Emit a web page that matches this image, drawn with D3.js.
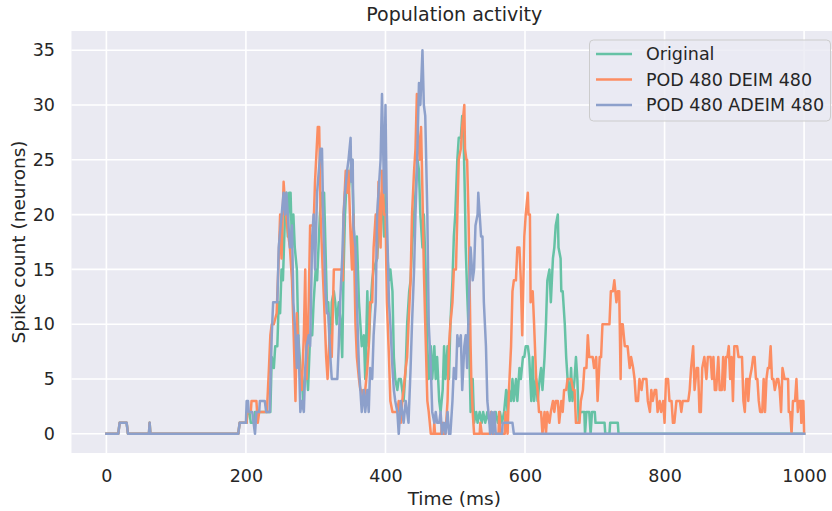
<!DOCTYPE html>
<html>
<head>
<meta charset="utf-8">
<script src="https://cdn.jsdelivr.net/npm/d3@7"></script>
<style>
  html, body { margin: 0; padding: 0; background: #ffffff; }
  svg { display: block; font-family: "DejaVu Sans", sans-serif; }
</style>
</head>
<body>
<svg id="chart" width="832" height="511"></svg>
<script>
// ---------------- data ----------------
const chartTitle = "Population activity";
const xLabel = "Time (ms)";
const yLabel = "Spike count (neurons)";
const xTicks = [0, 200, 400, 600, 800, 1000];
const yTicks = [0, 5, 10, 15, 20, 25, 30, 35];
const seriesNames = ["Original", "POD 480 DEIM 480", "POD 480 ADEIM 480"];
const seriesColors = ["#66c2a5", "#fc8d62", "#8da0cb"];

// [time (ms), spike count]
const originalData = [[0,0],[17,0],[19,1],[29,1],[31,0],[61,0],[62,1],[63,0],[189,0],[191,1],[201,1],[202,2],[205,2],[207,1],[211,1],[213,2],[235,2],[237,7],[240,6],[242,8],[245,8],[247,12],[249,11],[251,15],[253,14],[256,20],[258,22],[260,18],[262,22],[264,22],[266,17],[268,20],[270,17],[273,15],[275,9],[278,6],[280,5],[282,3],[284,5],[287,6],[289,4],[292,9],[295,9],[297,12],[300,15],[302,14],[304,17],[306,20],[309,22],[312,22],[314,17],[316,12],[318,12],[321,7],[323,12],[326,13],[328,12],[330,10],[333,12],[336,10],[338,7],[340,15],[342,20],[345,24],[347,22],[350,24],[352,25],[355,18],[357,15],[359,18],[362,12],[364,10],[366,8],[369,9],[371,5],[374,13],[376,8],[378,11],[381,14],[383,15],[388,16],[390,18],[393,20],[395,22],[398,18],[400,22],[402,17],[405,14],[407,15],[410,13],[412,7],[414,5],[417,4],[419,5],[422,5],[424,4],[426,3],[429,6],[431,10],[434,13],[436,14],[438,17],[441,20],[443,22],[446,25],[448,24],[450,20],[453,17],[455,20],[458,14],[460,8],[462,5],[465,8],[467,5],[470,8],[472,5],[474,7],[477,3],[479,2],[482,4],[484,8],[486,5],[489,8],[491,5],[493,10],[496,14],[498,18],[500,20],[503,25],[505,27],[508,27],[510,29],[512,27],[514,21],[515,17],[517,13],[520,8],[522,2],[525,5],[527,1],[530,2],[532,1],[535,2],[538,1],[540,2],[543,1],[546,2],[549,1],[552,2],[555,1],[558,2],[561,1],[564,2],[567,1],[570,2],[573,4],[575,2],[577,4],[580,3],[582,5],[584,3],[587,5],[589,3],[592,6],[594,5],[597,7],[599,7],[601,8],[604,8],[606,7],[609,3],[611,7],[613,3],[616,5],[618,3],[621,5],[623,6],[625,4],[628,7],[630,10],[632,14],[635,15],[637,12],[640,16],[642,17],[644,19],[647,20],[648,17],[651,16],[652,13],[654,13],[657,10],[659,7],[661,5],[664,3],[666,6],[668,3],[671,5],[673,7],[675,5],[677,1],[679,2],[685,2],[686,0],[688,2],[692,2],[694,0],[696,2],[700,2],[701,1],[714,1],[715,0],[721,0],[722,1],[733,1],[734,0],[1000,0]];

const deimData = [[0,0],[17,0],[19,1],[29,1],[31,0],[61,0],[62,1],[63,0],[189,0],[191,1],[201,1],[202,2],[207,2],[208,3],[215,3],[217,1],[219,2],[230,2],[233,6],[235,9],[237,10],[240,10],[244,11],[247,16],[249,20],[251,16],[254,23],[256,21],[259,19],[261,18],[263,17],[266,14],[268,10],[271,3],[273,11],[275,8],[278,5],[280,4],[283,9],[285,15],[287,5],[290,12],[292,19],[297,19],[299,23],[303,28],[305,28],[307,20],[310,15],[312,12],[315,7],[317,5],[320,9],[321,8],[323,7],[326,15],[338,15],[339,14],[340,20],[343,24],[345,22],[347,24],[350,18],[352,15],[354,20],[357,10],[359,7],[362,5],[364,4],[366,4],[369,3],[371,4],[374,6],[376,8],[378,12],[381,12],[383,17],[386,20],[388,16],[390,23],[393,17],[395,24],[398,20],[400,20],[402,12],[405,7],[407,3],[410,2],[417,2],[419,3],[422,1],[424,3],[426,4],[429,6],[431,7],[433,10],[436,14],[438,20],[441,24],[443,26],[445,31],[446,28],[449,25],[451,28],[453,22],[455,15],[457,10],[460,3],[462,2],[465,0],[469,0],[470,1],[471,0],[480,0],[481,1],[482,0],[486,0],[489,3],[491,8],[493,10],[496,12],[498,15],[501,15],[503,20],[505,25],[508,26],[510,28],[513,30],[514,26],[516,25],[517,25],[519,20],[521,12],[522,8],[523,5],[525,2],[527,0],[535,0],[536,1],[538,0],[550,0],[551,2],[553,0],[562,0],[563,2],[565,0],[571,0],[572,2],[575,0],[577,4],[580,8],[582,13],[584,14],[587,14],[589,17],[592,17],[594,14],[596,9],[599,18],[601,20],[604,22],[605,20],[607,20],[608,12],[611,13],[613,10],[616,5],[618,4],[620,2],[623,2],[625,0],[628,2],[630,0],[632,2],[635,1],[637,2],[640,3],[642,2],[644,3],[647,3],[649,1],[652,3],[654,2],[656,4],[659,4],[661,5],[664,5],[666,5],[669,4],[671,4],[673,1],[678,1],[680,3],[683,4],[685,6],[688,6],[690,9],[692,7],[697,7],[699,6],[702,7],[704,3],[707,7],[709,7],[711,10],[721,10],[723,13],[726,13],[728,14],[731,12],[733,13],[735,13],[737,5],[738,10],[740,10],[743,8],[747,8],[750,6],[752,7],[755,6],[757,5],[759,3],[762,3],[764,5],[767,4],[769,5],[774,5],[776,3],[779,2],[781,4],[783,3],[786,4],[788,4],[790,2],[793,3],[795,2],[798,3],[800,1],[802,5],[805,5],[807,3],[810,3],[812,1],[814,1],[817,3],[822,3],[824,2],[826,3],[834,3],[836,4],[838,6],[841,8],[843,4],[846,6],[848,6],[850,2],[852,2],[854,6],[857,7],[860,5],[862,7],[866,7],[868,5],[870,7],[872,4],[874,4],[877,7],[879,4],[882,4],[884,7],[886,4],[888,7],[890,7],[892,8],[894,5],[896,7],[898,3],[900,8],[904,8],[906,7],[911,7],[913,3],[915,2],[917,5],[919,5],[920,3],[922,5],[925,6],[927,7],[929,7],[931,5],[933,5],[935,3],[937,2],[940,2],[942,5],[944,2],[946,5],[948,6],[950,6],[952,8],[954,5],[956,5],[958,4],[961,5],[963,5],[965,4],[967,2],[969,6],[972,5],[977,5],[978,2],[980,2],[982,0],[984,3],[987,3],[989,5],[991,2],[993,3],[995,3],[996,1],[997,3],[999,3],[1000,0]];

const adeimData = [[0,0],[17,0],[19,1],[29,1],[31,0],[61,0],[62,1],[63,0],[189,0],[191,1],[200,1],[201,3],[203,3],[204,2],[209,2],[211,1],[213,0],[215,2],[219,2],[220,3],[227,3],[229,2],[234,2],[237,9],[239,12],[245,12],[247,17],[254,22],[256,20],[258,22],[260,20],[263,17],[266,19],[268,12],[271,9],[273,6],[275,9],[278,2],[280,3],[283,2],[285,6],[287,8],[290,9],[292,8],[295,18],[297,20],[299,15],[302,22],[307,26],[309,26],[311,19],[314,13],[316,11],[318,11],[321,7],[323,5],[331,5],[333,8],[335,12],[338,16],[340,20],[342,22],[345,24],[347,25],[350,27],[351,23],[353,25],[354,19],[357,17],[359,12],[362,6],[364,4],[366,2],[369,4],[371,2],[374,4],[376,2],[378,6],[381,5],[383,9],[386,12],[388,20],[390,22],[393,25],[395,31],[398,22],[400,30],[402,20],[405,12],[407,10],[410,6],[412,4],[414,3],[417,2],[419,0],[422,3],[424,2],[426,1],[429,3],[431,2],[433,1],[436,6],[438,10],[441,15],[443,20],[445,24],[448,32],[450,30],[453,35],[455,30],[457,29],[460,20],[462,10],[465,6],[467,2],[470,1],[472,2],[474,1],[477,1],[479,2],[481,0],[484,1],[486,0],[489,2],[491,0],[493,0],[496,3],[498,6],[501,5],[503,9],[505,8],[508,9],[510,4],[513,8],[515,9],[517,6],[520,13],[522,17],[525,14],[527,15],[529,19],[532,20],[533,22],[535,20],[537,18],[539,18],[541,12],[544,8],[546,3],[549,1],[550,0],[552,2],[554,0],[556,2],[558,0],[567,0],[568,1],[582,1],[584,0],[1000,0]];

const seriesData = [originalData, deimData, adeimData];

// ---------------- layout ----------------
const W = 832, H = 511;
const plot = { left: 71.5, right: 839, top: 31, bottom: 453 };
const textColor = "#262626";

const svg = d3.select("#chart");

const x = d3.scaleLinear().domain([-50, 1050]).range([plot.left, plot.right]);
const y = d3.scaleLinear().domain([-1.75, 36.75]).range([plot.bottom, plot.top]);

// background
svg.append("rect").attr("x", 0).attr("y", 0).attr("width", W).attr("height", H).attr("fill", "#ffffff");
svg.append("rect")
  .attr("x", plot.left).attr("y", plot.top)
  .attr("width", plot.right - plot.left).attr("height", plot.bottom - plot.top)
  .attr("fill", "#eaeaf2");

// grid
const grid = svg.append("g");
grid.selectAll("line.vx").data(xTicks).join("line")
  .attr("x1", d => x(d)).attr("x2", d => x(d))
  .attr("y1", plot.top).attr("y2", plot.bottom)
  .attr("stroke", "#ffffff").attr("stroke-width", 1.6);
grid.selectAll("line.hy").data(yTicks).join("line")
  .attr("x1", plot.left).attr("x2", plot.right)
  .attr("y1", d => y(d)).attr("y2", d => y(d))
  .attr("stroke", "#ffffff").attr("stroke-width", 1.6);

// clip
svg.append("defs").append("clipPath").attr("id", "clip")
  .append("rect").attr("x", plot.left).attr("y", plot.top)
  .attr("width", plot.right - plot.left).attr("height", plot.bottom - plot.top);

// lines
const line = d3.line().x(d => x(d[0])).y(d => y(d[1]));
const lines = svg.append("g").attr("clip-path", "url(#clip)");
seriesData.forEach((data, i) => {
  lines.append("path")
    .datum(data)
    .attr("d", line)
    .attr("fill", "none")
    .attr("stroke", seriesColors[i])
    .attr("stroke-width", 2.5)
    .attr("stroke-linejoin", "round")
    .attr("stroke-linecap", "square");
});

// axes
const xAxis = d3.axisBottom(x).tickValues(xTicks).tickSize(0).tickPadding(17).tickFormat(d3.format("d"));
const gx = svg.append("g").attr("transform", `translate(0,${plot.bottom})`).call(xAxis);
gx.select(".domain").remove();
gx.selectAll("text").attr("fill", textColor).attr("font-size", 17.5).attr("font-family", "DejaVu Sans");

const yAxis = d3.axisLeft(y).tickValues(yTicks).tickSize(0).tickPadding(16.5).tickFormat(d3.format("d"));
const gy = svg.append("g").attr("transform", `translate(${plot.left},0)`).call(yAxis);
gy.select(".domain").remove();
gy.selectAll("text").attr("fill", textColor).attr("font-size", 17.5).attr("font-family", "DejaVu Sans");

// labels
const cx = (plot.left + plot.right) / 2;
svg.append("text").attr("x", cx - 1).attr("y", 505)
  .attr("text-anchor", "middle").attr("font-size", 18.5).attr("fill", textColor)
  .text(xLabel);
svg.append("text").attr("transform", `translate(25,${(plot.top + plot.bottom) / 2}) rotate(-90)`)
  .attr("text-anchor", "middle").attr("font-size", 18.5).attr("fill", textColor)
  .text(yLabel);
svg.append("text").attr("x", cx - 1).attr("y", 21)
  .attr("text-anchor", "middle").attr("font-size", 19).attr("fill", textColor)
  .text(chartTitle);

// legend
const legend = svg.append("g");
legend.append("rect")
  .attr("x", 589.5).attr("y", 40).attr("width", 241).attr("height", 81)
  .attr("rx", 4).attr("ry", 4)
  .attr("fill", "#eaeaf2").attr("fill-opacity", 0.8)
  .attr("stroke", "#cccccc").attr("stroke-width", 1);
seriesNames.forEach((name, i) => {
  const ly = 54 + i * 25.5;
  legend.append("line")
    .attr("x1", 596).attr("x2", 632).attr("y1", ly).attr("y2", ly)
    .attr("stroke", seriesColors[i]).attr("stroke-width", 2.5);
  legend.append("text")
    .attr("x", 646).attr("y", ly + 6)
    .attr("font-size", 17.5).attr("fill", textColor)
    .text(name);
});
</script>
</body>
</html>
